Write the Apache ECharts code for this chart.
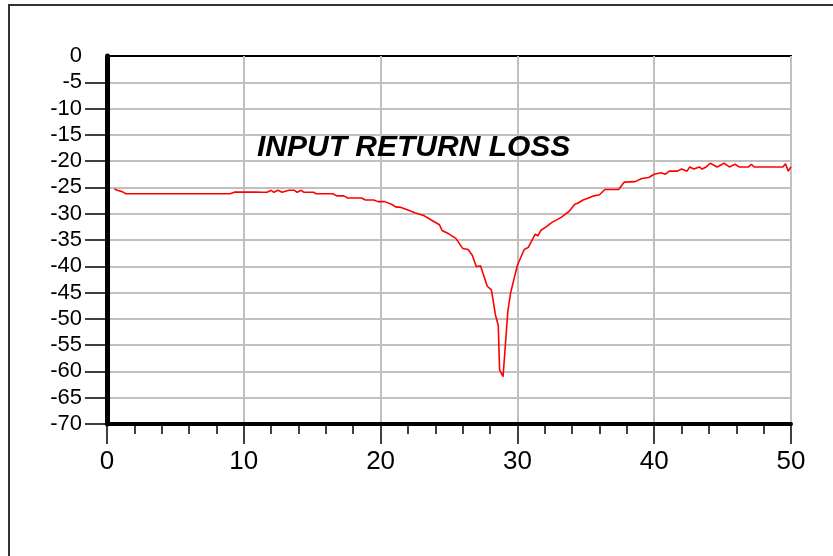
<!DOCTYPE html>
<html>
<head>
<meta charset="utf-8">
<script src="https://cdn.jsdelivr.net/npm/echarts@6/dist/echarts.min.js"></script>
<style>html,body{margin:0;padding:0;background:#fff;}#c{width:833px;height:556px;}</style>
</head>
<body>
<div id="c"></div>
<script>
var titleText = 'INPUT RETURN LOSS';
var freq = [0.54, 0.8, 1.1, 1.4, 9.0, 9.3, 10.9, 11.0, 11.3, 11.7, 12.0, 12.2, 12.5, 12.8, 13.3, 13.7, 13.9, 14.2, 14.4, 15.1, 15.3, 16.5, 16.8, 17.3, 17.6, 18.6, 18.9, 19.5, 19.8, 20.3, 20.8, 21.1, 21.5, 22.0, 22.5, 23.2, 23.7, 24.3, 24.5, 24.9, 25.5, 26.0, 26.4, 26.7, 27.0, 27.3, 27.8, 28.1, 28.4, 28.6, 28.7, 28.95, 29.3, 29.5, 30.0, 30.5, 30.8, 31.3, 31.5, 31.7, 32.1, 32.5, 33.2, 33.8, 34.2, 34.4, 34.8, 35.2, 35.6, 36.0, 36.4, 37.4, 37.8, 38.6, 39.1, 39.6, 40.0, 40.5, 40.8, 41.1, 41.7, 42.0, 42.4, 42.6, 42.9, 43.3, 43.5, 43.8, 44.1, 44.6, 45.1, 45.5, 45.9, 46.2, 46.9, 47.1, 47.3, 49.4, 49.6, 49.8, 50.0];
var s11 = [-25.3, -25.6, -25.8, -26.2, -26.2, -25.9, -25.9, -25.55, -25.93, -25.93, -25.55, -25.93, -25.55, -25.93, -25.55, -25.55, -25.93, -25.55, -25.93, -25.93, -26.2, -26.2, -26.6, -26.6, -27.0, -27.0, -27.4, -27.4, -27.7, -27.7, -28.2, -28.7, -28.8, -29.3, -29.8, -30.4, -31.2, -32.1, -33.2, -33.7, -34.7, -36.6, -36.8, -37.9, -40.1, -39.9, -43.8, -44.5, -49.3, -51.2, -59.7, -61.0, -48.6, -45.1, -39.8, -36.8, -36.4, -33.9, -34.2, -33.2, -32.5, -31.7, -30.7, -29.5, -28.2, -28.0, -27.4, -27.0, -26.6, -26.4, -25.4, -25.4, -24.0, -23.9, -23.3, -23.1, -22.5, -22.2, -22.5, -21.9, -21.9, -21.5, -21.9, -21.1, -21.5, -21.1, -21.5, -21.1, -20.4, -21.1, -20.4, -21.1, -20.6, -21.1, -21.1, -20.6, -21.1, -21.1, -20.5, -21.9, -21.1];
var yTickValues = [-70, -65, -60, -55, -50, -45, -40, -35, -30, -25, -20, -15, -10, -5];

var data = freq.map(function (f, i) { return [f, s11[i]]; });
var chart = echarts.init(document.getElementById('c'));
var font = 'Liberation Sans, Arial, sans-serif';
chart.setOption({
  animation: false,
  backgroundColor: '#fff',
  graphic: [
    { type: 'rect', z: -10, shape: { x: 9, y: 5, width: 1000, height: 800 }, style: { fill: 'none', stroke: '#333', lineWidth: 2 } },
    { type: 'text', z: 100, style: { x: 257, y: 148, text: titleText, fill: '#000', font: 'italic bold 30px ' + font, verticalAlign: 'middle', align: 'left' } }
  ],
  grid: { left: 107, right: 42, top: 56, bottom: 132, show: true, borderColor: '#000', borderWidth: 2, backgroundColor: 'transparent' },
  xAxis: {
    type: 'value', min: 0, max: 50, interval: 10,
    axisLine: { show: true, onZero: false, lineStyle: { color: '#000', width: 4 } },
    axisTick: { show: true, length: 20, lineStyle: { color: '#000', width: 1.5 } },
    minorTick: { show: true, splitNumber: 5, length: 10, lineStyle: { color: '#000', width: 1.5 } },
    splitLine: { show: true, lineStyle: { color: '#c0c0c0', width: 2 } },
    axisLabel: { color: '#000', fontSize: 26, fontFamily: '"Liberation Sans Narrow", "Liberation Sans", Arial, sans-serif', margin: 25 }
  },
  yAxis: {
    type: 'value', min: -70, max: 0, interval: 5,
    axisLine: { show: true, onZero: false, lineStyle: { color: '#000', width: 5 } },
    axisTick: { show: true, length: 22, customValues: yTickValues, lineStyle: { color: '#000', width: 1.5 } },
    splitLine: { show: true, lineStyle: { color: '#c0c0c0', width: 2 } },
    axisLabel: { color: '#000', fontSize: 22, fontFamily: font, margin: 25 }
  },
  series: [{
    type: 'line', data: data, showSymbol: false, symbol: 'none',
    lineStyle: { color: '#ff0000', width: 1.6 }, z: 5
  }]
});
</script>
</body>
</html>
